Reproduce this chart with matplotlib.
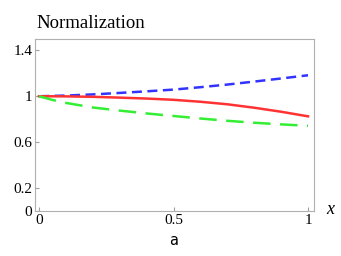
import matplotlib
matplotlib.use("Agg")
import matplotlib.pyplot as plt

# Données
x_vals = [0.0, 0.05, 0.1, 0.2, 0.3, 0.4, 0.5, 0.6, 0.7, 0.8, 0.9, 1.0]
blue_vals = [1.0, 1.003, 1.006, 1.016, 1.029, 1.043, 1.058, 1.079, 1.102, 1.128, 1.155, 1.183]
red_vals = [1.0, 0.9998, 0.999, 0.995, 0.988, 0.98, 0.969, 0.952, 0.93, 0.9, 0.865, 0.825]
green_vals = [1.0, 0.968, 0.942, 0.902, 0.875, 0.85, 0.828, 0.806, 0.786, 0.769, 0.755, 0.742]

x_ticks = [0, 0.5, 1]
x_tick_labels = ["0", "0.5", "1"]
y_ticks = [0, 0.2, 0.6, 1, 1.4]
y_tick_labels = ["0", "0.2", "0.6", "1", "1.4"]

serif = "Liberation Serif"

fig = plt.figure(figsize=(3.41, 2.56), dpi=100)
ax = fig.add_axes([0.1026, 0.176, 0.818, 0.672])

ax.plot(x_vals, blue_vals, color="#3333ff", lw=1.8, dashes=(4, 2.2))
ax.plot(x_vals, red_vals, color="#ff3333", lw=1.8)
ax.plot(x_vals, green_vals, color="#33ee33", lw=1.8, dashes=(7, 3.8))

ax.set_xlim(-0.015, 1.022)
ax.set_ylim(0, 1.5)

ax.set_xticks(x_ticks)
ax.set_xticklabels(x_tick_labels, fontfamily=serif, fontsize=11)
ax.set_yticks(y_ticks)
ax.set_yticklabels(y_tick_labels, fontfamily=serif, fontsize=11)
ax.tick_params(direction="in", length=3, color="#a0a0a0", pad=2)

for s in ax.spines.values():
    s.set_color("#b0b0b0")
    s.set_linewidth(0.8)

fig.text(0.106, 0.91, "Normalization", fontfamily=serif, fontsize=13.5,
         ha="left", va="center")
fig.text(0.968, 0.18, "x", fontfamily=serif, fontstyle="italic", fontsize=13,
         ha="center", va="center")
fig.text(0.51, 0.062, "a", fontfamily="DejaVu Sans", fontsize=10.5,
         ha="center", va="center")

fig.savefig("out.png", dpi=100)
